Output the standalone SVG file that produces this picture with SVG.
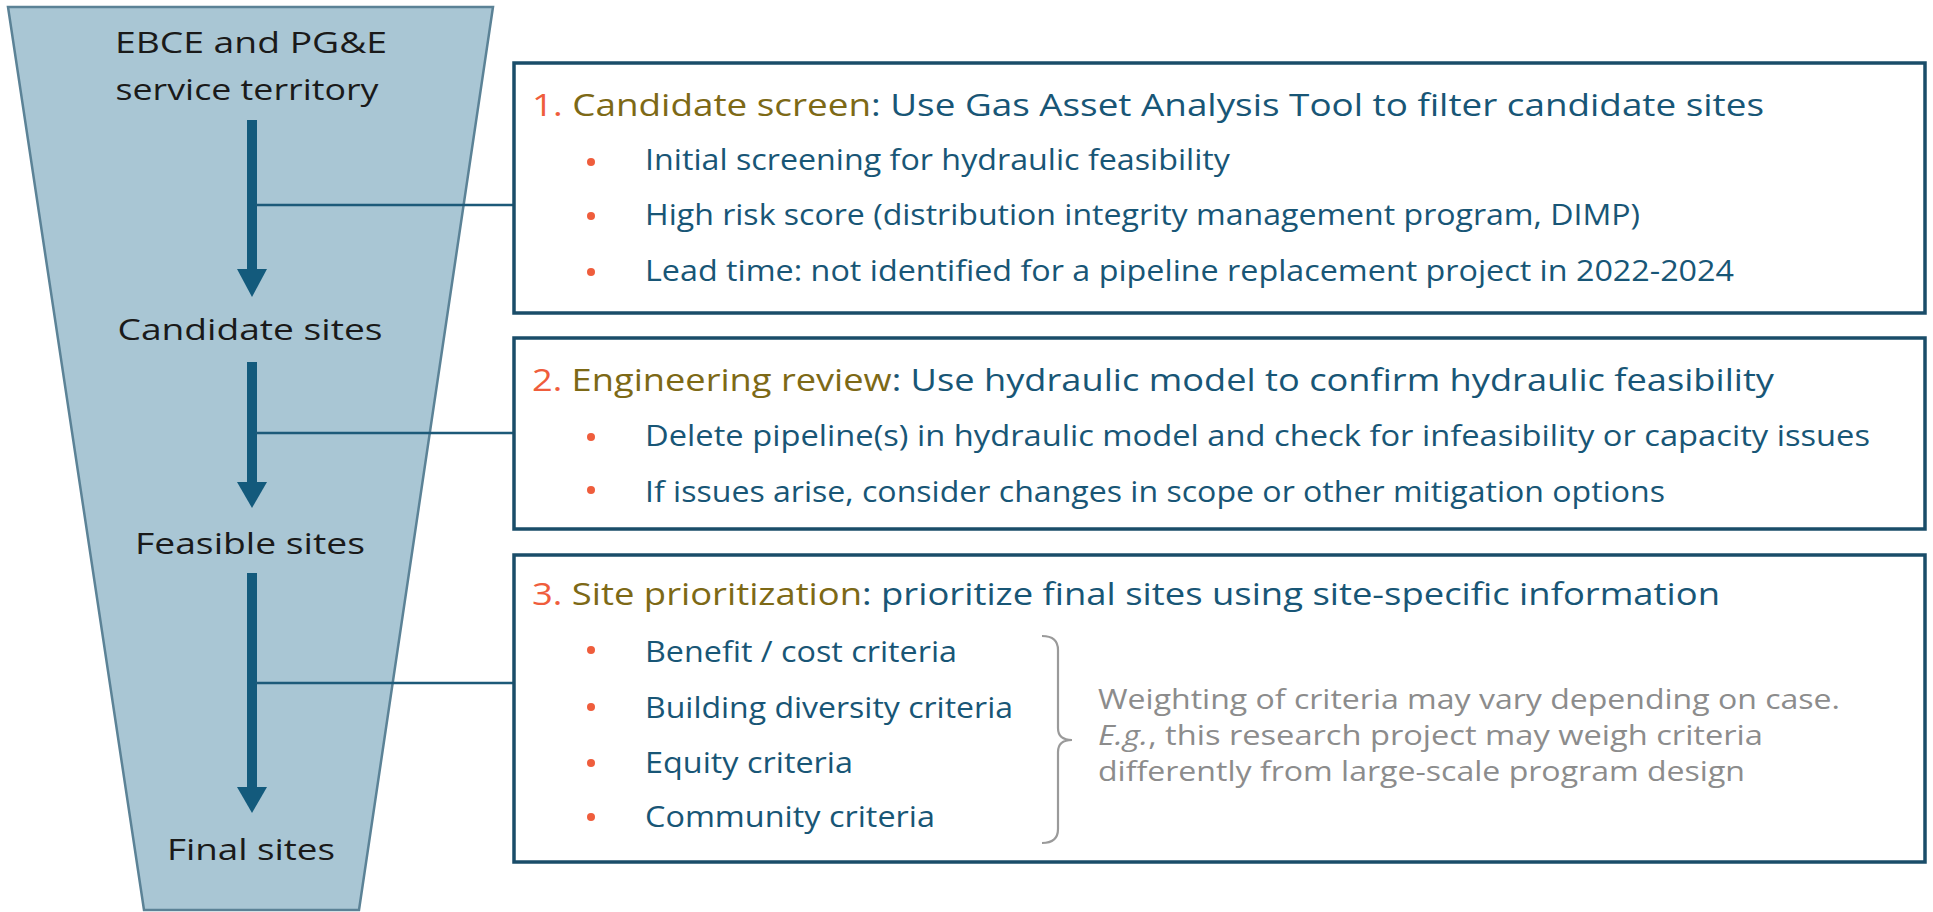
<svg xmlns="http://www.w3.org/2000/svg" width="1933" height="912" viewBox="0 0 1933 912">
<defs>
<style>
.lbl{font-family:"Open Sans","Liberation Sans",sans-serif;font-size:28.5px;fill:#1a1a1a;text-anchor:middle}
.ttl{font-family:"Open Sans","Liberation Sans",sans-serif;font-size:31px;fill:#185676}
.num{fill:#ef5d3c}
.hd{fill:#7d6916}
.bul{font-family:"Open Sans","Liberation Sans",sans-serif;font-size:30px;fill:#185676}
.note{font-family:"Open Sans","Liberation Sans",sans-serif;font-size:28px;fill:#8c8c8c}
.box{fill:#ffffff;stroke:#1a4d69;stroke-width:3.5}
.dot{fill:#ef5d3c}
.shaft{stroke:#135a7c;stroke-width:10;fill:none}
.head{fill:#135a7c}
.conn{stroke:#1d5a79;stroke-width:2.6;fill:none}
</style>
</defs>
<rect width="1933" height="912" fill="#ffffff"/>
<g id="funnel">
<polygon points="8,7 493,7 359,910 144,910" fill="#a9c6d4" stroke="#5b8296" stroke-width="2.5"/>
<text class="lbl" x="251" y="53" textLength="272" lengthAdjust="spacingAndGlyphs">EBCE and PG&amp;E</text>
<text class="lbl" x="247" y="100" textLength="263" lengthAdjust="spacingAndGlyphs">service territory</text>
<text class="lbl" x="250" y="340" textLength="265" lengthAdjust="spacingAndGlyphs">Candidate sites</text>
<text class="lbl" x="250" y="554" textLength="230" lengthAdjust="spacingAndGlyphs">Feasible sites</text>
<text class="lbl" x="251" y="860" textLength="168" lengthAdjust="spacingAndGlyphs">Final sites</text>
</g>
<g id="connectors">
<line class="shaft" x1="252" y1="120" x2="252" y2="272"/>
<polygon class="head" points="237,269 267,269 252,297"/>
<line class="shaft" x1="252" y1="362" x2="252" y2="485"/>
<polygon class="head" points="237,482 267,482 252,508"/>
<line class="shaft" x1="252" y1="573" x2="252" y2="790"/>
<polygon class="head" points="237,787 267,787 252,813"/>
<line class="conn" x1="256" y1="205" x2="514" y2="205"/>
<line class="conn" x1="256" y1="433" x2="514" y2="433"/>
<line class="conn" x1="256" y1="683" x2="514" y2="683"/>
</g>
<g id="step1">
<rect class="box" x="514" y="63" width="1411" height="250"/>
<text class="ttl" x="532" y="116" textLength="1232" lengthAdjust="spacingAndGlyphs"><tspan class="num">1. </tspan><tspan class="hd">Candidate screen</tspan>: Use Gas Asset Analysis Tool to filter candidate sites</text>
<circle class="dot" cx="591" cy="162" r="4"/>
<text class="bul" x="645" y="170" textLength="585" lengthAdjust="spacingAndGlyphs">Initial screening for hydraulic feasibility</text>
<circle class="dot" cx="591" cy="216" r="4"/>
<text class="bul" x="645" y="225" textLength="995" lengthAdjust="spacingAndGlyphs">High risk score (distribution integrity management program, DIMP)</text>
<circle class="dot" cx="591" cy="272" r="4"/>
<text class="bul" x="645" y="281" textLength="1089" lengthAdjust="spacingAndGlyphs">Lead time: not identified for a pipeline replacement project in 2022-2024</text>
</g>
<g id="step2">
<rect class="box" x="514" y="338" width="1411" height="191"/>
<text class="ttl" x="532" y="391" textLength="1242" lengthAdjust="spacingAndGlyphs"><tspan class="num">2. </tspan><tspan class="hd">Engineering review</tspan>: Use hydraulic model to confirm hydraulic feasibility</text>
<circle class="dot" cx="591" cy="437" r="4"/>
<text class="bul" x="645" y="446" textLength="1225" lengthAdjust="spacingAndGlyphs">Delete pipeline(s) in hydraulic model and check for infeasibility or capacity issues</text>
<circle class="dot" cx="591" cy="490" r="4"/>
<text class="bul" x="645" y="502" textLength="1020" lengthAdjust="spacingAndGlyphs">If issues arise, consider changes in scope or other mitigation options</text>
</g>
<g id="step3">
<rect class="box" x="514" y="555" width="1411" height="307"/>
<text class="ttl" x="532" y="605" textLength="1188" lengthAdjust="spacingAndGlyphs"><tspan class="num">3. </tspan><tspan class="hd">Site prioritization</tspan>: prioritize final sites using site-specific information</text>
<circle class="dot" cx="591" cy="650" r="4"/>
<text class="bul" x="645" y="662" textLength="312" lengthAdjust="spacingAndGlyphs">Benefit / cost criteria</text>
<circle class="dot" cx="591" cy="707" r="4"/>
<text class="bul" x="645" y="718" textLength="368" lengthAdjust="spacingAndGlyphs">Building diversity criteria</text>
<circle class="dot" cx="591" cy="763" r="4"/>
<text class="bul" x="645" y="773" textLength="208" lengthAdjust="spacingAndGlyphs">Equity criteria</text>
<circle class="dot" cx="591" cy="817" r="4"/>
<text class="bul" x="645" y="827" textLength="290" lengthAdjust="spacingAndGlyphs">Community criteria</text>
<path d="M1042,636 Q1058,636 1058,650 L1058,728 Q1058,740 1072,740 Q1058,740 1058,752 L1058,829 Q1058,843 1042,843" fill="none" stroke="#9a9a9a" stroke-width="2.2"/>
<text class="note" x="1098" y="709" textLength="742" lengthAdjust="spacingAndGlyphs">Weighting of criteria may vary depending on case.</text>
<text class="note" x="1098" y="745" textLength="665" lengthAdjust="spacingAndGlyphs"><tspan font-style="italic">E.g.</tspan>, this research project may weigh criteria</text>
<text class="note" x="1098" y="781" textLength="647" lengthAdjust="spacingAndGlyphs">differently from large-scale program design</text>
</g>
</svg>
